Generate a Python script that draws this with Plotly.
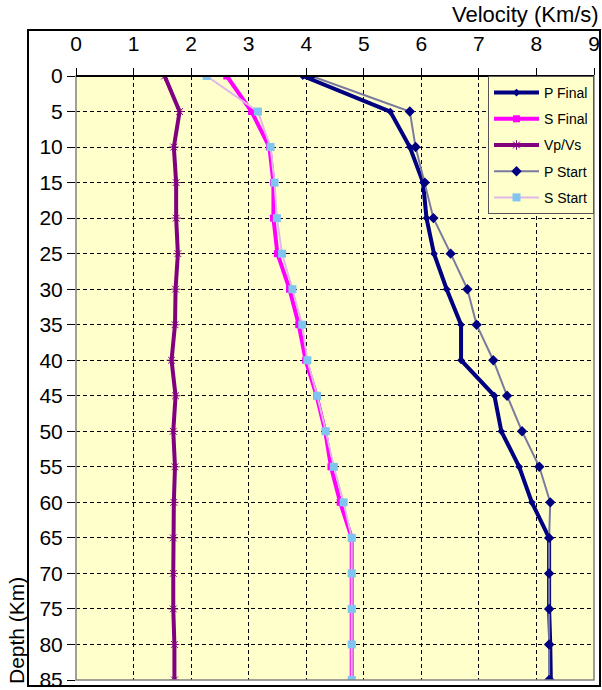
import plotly.graph_objects as go

depth = [0, 5, 10, 15, 20, 25, 30, 35, 40, 45, 50, 55, 60, 65, 70, 75, 80, 85]
p_final = [3.94, 5.46, 5.80, 6.03, 6.09, 6.22, 6.44, 6.69, 6.69, 7.27, 7.39, 7.70, 7.92, 8.22, 8.22, 8.22, 8.24, 8.25]
s_final = [2.62, 3.05, 3.36, 3.43, 3.43, 3.50, 3.71, 3.87, 3.99, 4.18, 4.33, 4.43, 4.59, 4.79, 4.79, 4.79, 4.79, 4.79]
vp_vs = [1.54, 1.80, 1.70, 1.74, 1.74, 1.77, 1.73, 1.72, 1.66, 1.73, 1.69, 1.72, 1.70, 1.69, 1.69, 1.69, 1.71, 1.71]
p_start = [4.09, 5.80, 5.90, 6.06, 6.21, 6.51, 6.80, 6.96, 7.25, 7.49, 7.75, 8.05, 8.24, 8.22, 8.22, 8.22, 8.22, 8.22]
s_start = [2.27, 3.16, 3.38, 3.45, 3.49, 3.58, 3.76, 3.93, 4.02, 4.19, 4.34, 4.48, 4.65, 4.79, 4.79, 4.79, 4.79, 4.79]

x_ticks = list(range(0, 10))
y_ticks = list(range(0, 90, 5))

FONT = "Liberation Sans, Arial, sans-serif"

fig = go.Figure()

series = [
    ("P Final", p_final, dict(color="#000080", width=4), dict(symbol="diamond", size=6, color="#000080")),
    ("S Final", s_final, dict(color="#FF00FF", width=4), dict(symbol="square", size=7, color="#FF00FF")),
    ("Vp/Vs", vp_vs, dict(color="#800080", width=4), dict(symbol="asterisk-open", size=8, color="#800080", line=dict(color="#800080", width=1))),
    ("P Start", p_start, dict(color="#7A7A9E", width=2), dict(symbol="diamond", size=8, color="#000080")),
    ("S Start", s_start, dict(color="#E0B8E8", width=2), dict(symbol="square", size=8, color="#80C4F0")),
]

for name, vals, line, marker in series:
    fig.add_trace(go.Scatter(
        x=vals, y=depth, name=name, mode="lines+markers",
        line=line, marker=marker, legendgroup=name,
    ))

fig.update_layout(
    width=602, height=690,
    margin=dict(l=76, r=8, t=76, b=10),
    paper_bgcolor="white",
    plot_bgcolor="#FFFFCC",
    font=dict(family=FONT, size=16, color="black"),
    showlegend=True,
    legend=dict(
        x=1, y=1, xanchor="right", yanchor="top",
        bgcolor="#FFFFCC", bordercolor="#555555", borderwidth=1,
        font=dict(family=FONT, size=14, color="black"),
        tracegroupgap=5, traceorder="grouped", itemwidth=45,
    ),
    xaxis=dict(
        side="top", range=[0, 9], tickvals=x_ticks, ticktext=[str(v) for v in x_ticks],
        showgrid=True, gridcolor="black", griddash="4px,3px", gridwidth=1,
        ticks="outside", ticklen=7, tickcolor="black",
        ticklabelstandoff=9, ticklabeloverflow="allow",
        showline=False, zeroline=False, automargin=False,
        tickfont=dict(family=FONT, size=21),
    ),
    yaxis=dict(
        range=[85, 0], tickvals=y_ticks, ticktext=[str(v) for v in y_ticks],
        showgrid=True, gridcolor="black", griddash="4px,3px", gridwidth=1,
        ticks="outside", ticklen=8, tickcolor="black",
        ticklabeloverflow="allow",
        showline=False, zeroline=False, automargin=False,
        tickfont=dict(family=FONT, size=21),
    ),
    shapes=[
        dict(type="rect", xref="paper", yref="paper", x0=0, x1=1, y0=0, y1=1,
             line=dict(color="#808080", width=1.5), layer="above"),
        dict(type="line", xref="paper", yref="paper", x0=0, x1=1, y0=1, y1=1,
             line=dict(color="black", width=2), layer="above"),
        dict(type="rect", xref="paper", yref="paper",
             x0=(28 - 76) / 518, x1=(600 - 76) / 518,
             y0=(680 - 686) / 604, y1=(680 - 30) / 604,
             line=dict(color="black", width=2), layer="above"),
    ],
    annotations=[
        dict(text="Velocity (Km/s)", xref="paper", yref="paper",
             x=(601 - 76) / 518, y=(680 - 14) / 604, xanchor="right", yanchor="middle",
             showarrow=False, font=dict(family=FONT, size=22)),
        dict(text="Depth (Km)", xref="paper", yref="paper", textangle=-90,
             x=(16 - 76) / 518, y=(680 - 631) / 604, xanchor="center", yanchor="middle",
             showarrow=False, font=dict(family=FONT, size=21)),
    ],
)

fig.write_html("out.html")
